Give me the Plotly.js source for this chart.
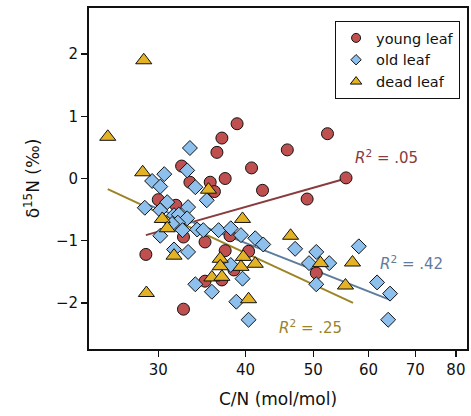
<!DOCTYPE html>
<html>
<head>
<meta charset="utf-8">
<script src="https://cdn.plot.ly/plotly-3.0.1.min.js"></script>
<style>html,body{margin:0;padding:0;background:#fff}</style>
</head>
<body>
<div id="chart" style="width:471px;height:416px"></div>
<script>
// young leaf (red circles)
const youngX = [38.9,37.0,36.4,40.8,32.4,37.4,33.3,35.6,36.1,42.3,45.9,52.4,55.7,49.0,30.0,31.8,32.6,35.0,28.8,37.4,40.4,38.0,35.0,37.0,32.6,38.5,50.5];
const youngY = [0.88,0.65,0.42,0.17,0.20,0.00,-0.06,-0.06,-0.21,-0.19,0.46,0.72,0.01,-0.33,-0.34,-0.43,-0.94,-1.02,-1.22,-1.16,-1.17,-0.92,-1.65,-1.63,-2.10,-1.47,-1.52];
// old leaf (blue diamonds)
const oldX = [33.3,33.0,30.6,29.4,30.2,33.9,35.2,28.7,30.9,30.2,31.6,32.1,33.1,33.0,32.0,32.5,34.1,34.8,36.6,38.1,39.4,41.3,42.4,30.2,31.6,33.1,31.4,38.1,39.6,33.9,35.8,38.8,40.4,47.1,50.5,49.3,52.7,50.5,58.1,61.7,64.4,64.0];
const oldY = [0.49,0.13,0.07,-0.04,-0.13,-0.14,-0.35,-0.47,-0.38,-0.51,-0.59,-0.58,-0.46,-0.64,-0.71,-0.83,-0.82,-0.83,-0.83,-0.80,-0.91,-0.96,-1.06,-0.92,-1.14,-1.18,-0.73,-1.39,-1.61,-1.70,-1.82,-1.98,-2.27,-1.13,-1.18,-1.36,-1.36,-1.70,-1.09,-1.67,-1.85,-2.27];
// dead leaf (gold triangles)
const deadX = [28.6,25.4,28.5,35.4,30.4,30.9,39.6,31.6,36.8,36.8,39.7,41.3,39.4,35.8,37.0,28.85,40.4,46.4,51.2,56.9,55.6];
const deadY = [1.90,0.67,0.10,-0.18,-0.65,-0.80,-0.65,-1.24,-1.29,-1.41,-1.26,-1.37,-1.42,-1.59,-1.58,-1.84,-1.94,-0.92,-1.36,-1.35,-1.72];
// fitted lines (endpoints)
const youngFitX = [28.8,55.7], youngFitY = [-0.91,0.00];
const oldFitX = [28.7,64.4], oldFitY = [-0.40,-1.95];
const deadFitX = [25.4,57.0], deadFitY = [-0.17,-2.00];
const seriesNames = ['young leaf','old leaf','dead leaf'];
const r2Labels = ['.05','.42','.25'];
const xTicks = [30,40,50,60,70,80];
const yTicks = [-2,-1,0,1,2];
const yTickText = ['\u22122','\u22121','0','1','2'];

const cRed='#c0504f', cRedL='#8a3b3c';
const cBlue='#8ec0ee', cBlueL='#5d7c9c';
const cGold='#e3b225', cGoldL='#9c8426';
const font = 'DejaVu Sans, sans-serif';

const mk = (x,y,sym,col,size,show,name)=>({x:x,y:y,type:'scatter',mode:'markers',name:name,showlegend:show,
  marker:{symbol:sym,color:col,size:size,line:{color:'#111',width:1}},hoverinfo:'skip'});
const ln = (x,y,col)=>({x:x,y:y,type:'scatter',mode:'lines',showlegend:false,line:{color:col,width:2},hoverinfo:'skip'});

const data = [
  ln(youngFitX,youngFitY,cRedL), ln(oldFitX,oldFitY,cBlueL), ln(deadFitX,deadFitY,cGoldL),
  mk(youngX,youngY,'circle',cRed,12,false,seriesNames[0]),
  mk(oldX,oldY,'diamond',cBlue,11.5,false,seriesNames[1]),
  mk(deadX,deadY,'triangle-up',cGold,14,false,seriesNames[2]),
  mk([null],[null],'circle',cRed,9,true,seriesNames[0]),
  mk([null],[null],'diamond',cBlue,8,true,seriesNames[1]),
  mk([null],[null],'triangle-up',cGold,10,true,seriesNames[2])
];

const ann = (x,y,txt,col)=>({x:x,y:y,xref:'x',yref:'y',text:'<i>R</i><sup>2</sup> = '+txt,showarrow:false,
  font:{family:font,size:15,color:col}});

const layout = {
  width:471,height:416,
  margin:{l:89,r:4,t:8,b:67},
  paper_bgcolor:'#fff',plot_bgcolor:'#fff',
  font:{family:font,size:15,color:'#111'},
  xaxis:{type:'log',range:[1.378,1.919],tickvals:xTicks,ticktext:xTicks.map(String),
    ticks:'outside',ticklen:6,tickwidth:1.5,tickcolor:'#111',showline:true,mirror:true,linecolor:'#111',linewidth:2,
    showgrid:false,zeroline:false,tickfont:{size:15},
    title:{text:'C/N (mol/mol)',font:{size:17},standoff:15}},
  yaxis:{range:[-2.74,2.74],tickvals:yTicks,ticktext:yTickText,
    ticks:'outside',ticklen:6,tickwidth:1.5,tickcolor:'#111',showline:true,mirror:true,linecolor:'#111',linewidth:2,
    showgrid:false,zeroline:false,tickfont:{size:15},
    title:{text:'\u03b4<sup>15</sup>N (\u2030)',font:{size:17},standoff:12}},
  legend:{x:0.651,y:0.962,xanchor:'left',yanchor:'top',bordercolor:'#111',borderwidth:1,bgcolor:'#fff',
    font:{size:14.5},tracegroupgap:0,itemsizing:'trace'},
  annotations:[
    ann(1.8034,0.345,r2Labels[0],cRedL),
    ann(1.8392,-1.357,r2Labels[1],cBlueL),
    ann(1.6946,-2.386,r2Labels[2],cGoldL)
  ]
};
Plotly.newPlot('chart',data,layout,{displayModeBar:false,staticPlot:true});
</script>
</body>
</html>
